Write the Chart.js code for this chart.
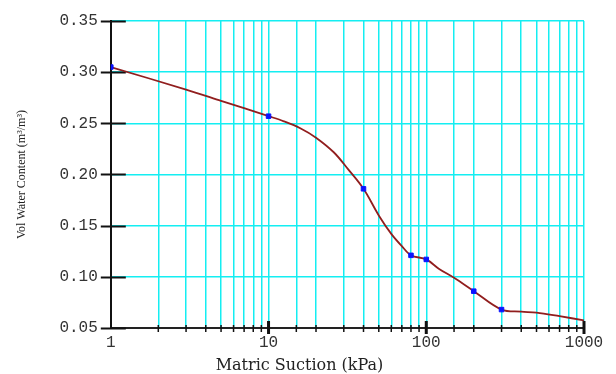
<!DOCTYPE html>
<html>
<head>
<meta charset="utf-8">
<script src="https://cdn.jsdelivr.net/npm/chart.js@4.4.1/dist/chart.umd.min.js"></script>
<style>
  html, body { margin: 0; padding: 0; background: #fff; }
  #wrap { width: 616px; height: 374px; }
</style>
</head>
<body>
<div id="wrap"><canvas id="swcc"></canvas></div>
<script>
// measured points (suction kPa, volumetric water content)
const suction = [1, 10, 40, 80, 100, 200, 300];
const waterContent = [0.305, 0.257, 0.186, 0.121, 0.117, 0.086, 0.068];

// fitted curve
const curveSuction = [1, 3, 5, 10, 12.5, 16, 20, 26, 32, 40, 50, 60, 70, 80, 100, 120, 150, 200, 300, 400, 500, 700, 1000];
const curveWater = [0.305, 0.283, 0.272, 0.257, 0.252, 0.245, 0.236, 0.2215, 0.205, 0.186, 0.160, 0.142, 0.130, 0.121, 0.117, 0.108, 0.099, 0.086, 0.068, 0.066, 0.065, 0.0615, 0.0575];

const xLabels = [1, 10, 100, 1000];
const yTicks = [0.05, 0.10, 0.15, 0.20, 0.25, 0.30, 0.35];

const gridCyan = "rgb(20, 238, 242)";
const tickFont = { family: "Liberation Mono", size: 16, lineHeight: 1 };

// black tick marks crossing the axes
const axisTicks = {
  id: "axisTicks",
  beforeDatasetsDraw(chart) {
    const { ctx, chartArea, scales } = chart;
    ctx.save();
    ctx.strokeStyle = "#111";
    ctx.lineWidth = 2;
    yTicks.forEach((v) => {
      const y = Math.round(scales.y.getPixelForValue(v)) + 0.5;
      ctx.beginPath();
      ctx.moveTo(chartArea.left - 10, y);
      ctx.lineTo(chartArea.left + 15, y);
      ctx.stroke();
    });
    scales.x.ticks.forEach((t) => {
      const x = scales.x.getPixelForValue(t.value);
      const major = xLabels.includes(t.value);
      if (t.value === 1) return;
      ctx.lineWidth = major ? 3 : 1.5;
      ctx.beginPath();
      ctx.moveTo(x, chartArea.bottom - (major ? 7 : 3));
      ctx.lineTo(x, chartArea.bottom + (major ? 6 : 4));
      ctx.stroke();
    });
    ctx.restore();
  },
};

new Chart(document.getElementById("swcc"), {
  type: "scatter",
  data: {
    datasets: [
      {
        type: "line",
        label: "Curve",
        data: curveSuction.map((s, i) => ({ x: s, y: curveWater[i] })),
        borderColor: "rgb(145, 30, 30)",
        borderWidth: 1.8,
        pointRadius: 0,
        fill: false,
        tension: 0.35,
        order: 2,
      },
      {
        label: "Measured",
        data: suction.map((s, i) => ({ x: s, y: waterContent[i] })),
        backgroundColor: "#0a14ff",
        borderColor: "#0a14ff",
        borderWidth: 1,
        pointStyle: "rect",
        pointRadius: 3.2,
        order: 1,
      },
    ],
  },
  options: {
    responsive: true,
    maintainAspectRatio: false,
    animation: false,
    layout: { padding: { left: 15, right: 32, top: 12, bottom: 0 } },
    plugins: {
      legend: { display: false },
      tooltip: { enabled: false },
      title: {
        display: true,
        position: "bottom",
        text: "Matric Suction (kPa)",
        color: "#222",
        font: { family: "DejaVu Serif", size: 16, weight: "normal", lineHeight: 1 },
        padding: { top: 0, bottom: 0 },
      },
    },
    scales: {
      x: {
        type: "logarithmic",
        min: 1,
        max: 1000,
        border: { color: "#222", width: 2 },
        grid: { color: gridCyan, lineWidth: 1.5, drawTicks: false },
        ticks: {
          autoSkip: false,
          maxRotation: 0,
          padding: 7,
          color: "#333",
          font: tickFont,
          callback: (v) => (xLabels.includes(v) ? String(v) : ""),
        },
      },
      y: {
        min: 0.05,
        max: 0.35,
        border: { color: "#111", width: 2 },
        grid: { color: gridCyan, lineWidth: 1.5, drawTicks: false },
        ticks: {
          stepSize: 0.05,
          padding: 13,
          color: "#333",
          font: tickFont,
          callback: (v) => v.toFixed(2),
        },
        title: {
          display: true,
          text: "Vol Water Content (m³/m³)",
          color: "#222",
          font: { family: "Liberation Serif", size: 12 },
          padding: { top: 0, bottom: 17 },
        },
      },
    },
  },
  plugins: [axisTicks],
});
</script>
</body>
</html>
